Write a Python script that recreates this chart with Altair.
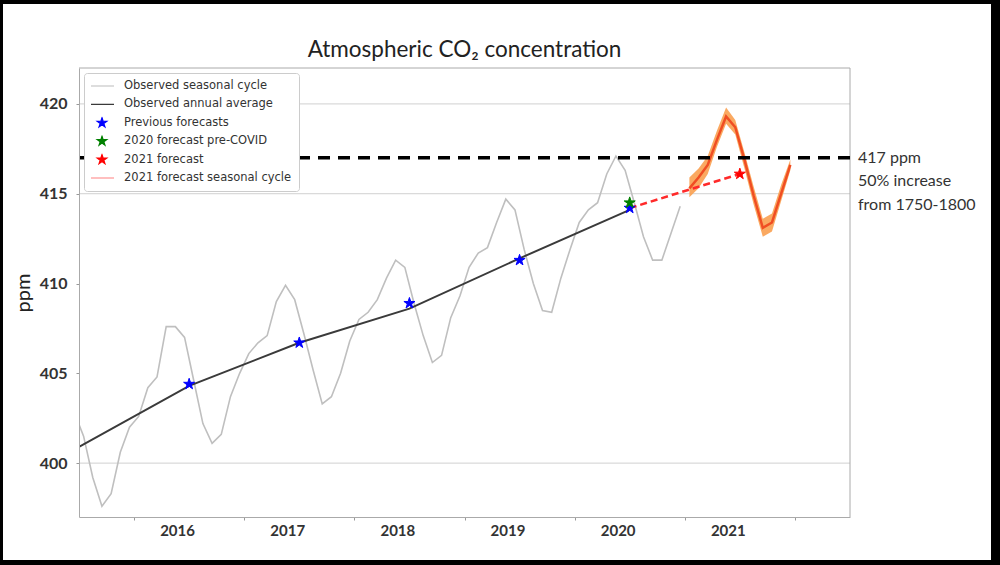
import altair as alt
import pandas as pd

# ---------------- data ----------------
# Observed monthly CO2 (mid-month), June 2015 .. December 2020
obs_2015 = [402.8, 401.5, 399.2, 397.6, 398.3, 400.6, 402.0]
obs_2016 = [402.6, 404.2, 404.8, 407.6, 407.6, 407.0, 404.6, 402.2, 401.1, 401.6, 403.7, 405.0]
obs_2017 = [406.1, 406.7, 407.1, 409.0, 409.9, 409.1, 407.2, 405.2, 403.3, 403.7, 405.0, 406.8]
obs_2018 = [408.0, 408.4, 409.1, 410.3, 411.3, 410.9, 408.9, 407.1, 405.6, 406.0, 408.1, 409.3]
obs_2019 = [410.9, 411.7, 412.0, 413.4, 414.7, 414.1, 411.9, 410.0, 408.5, 408.4, 410.3, 411.9]
obs_2020 = [413.4, 414.1, 414.5, 416.1, 417.1, 416.3, 414.5, 412.6, 411.3, 411.3, 412.8, 414.3]

# Observed annual averages (plotted mid-year)
annual_years = [2015.5, 2016.5, 2017.5, 2018.5, 2019.5, 2020.5]
annual_vals = [400.9, 404.3, 406.7, 408.6, 411.4, 414.1]

# Forecast stars
prev_years = [2016.5, 2017.5, 2018.5, 2019.5, 2020.5]
prev_vals = [404.4, 406.7, 408.9, 411.3, 414.2]
precovid_year, precovid_val = 2020.5, 414.5
f2021_year, f2021_val = 2021.5, 416.1

# Dashed red forecast link
link_years = [2020.5, 2021.5]
link_vals = [414.2, 416.1]

# 2021 forecast seasonal cycle (Jan..Dec 2021) with its uncertainty band
fc_mid = [415.3, 415.9, 416.6, 418.0, 419.3, 418.7, 416.9, 414.9, 413.1, 413.4, 415.0, 416.6]
fc_lo = [414.8, 415.3, 416.1, 417.6, 418.9, 418.3, 416.4, 414.4, 412.6, 412.9, 414.6, 416.3]
fc_hi = [415.9, 416.4, 417.1, 418.5, 419.8, 419.1, 417.3, 415.4, 413.6, 413.9, 415.5, 416.9]

threshold = 417
grid_vals = [400, 415, 420]
y_ticks = [400, 405, 410, 415, 420]
x_ticks = [2016, 2017, 2018, 2019, 2020, 2021, 2022]
x_domain = [2015.5, 2022.5]
y_domain = [397, 422]
note_text = "417 ppm\n50% increase\nfrom 1750-1800"

legend_names = ["Observed seasonal cycle", "Observed annual average", "Previous forecasts",
                "2020 forecast pre-COVID", "2021 forecast", "2021 forecast seasonal cycle"]
legend_colors = ["#bbbbbb", "#3a3a3a", "#0000ff", "#008000", "#ff0000", "#ff8080"]

# ---------------- tables ----------------
def month_x(year, month):
    return year + (month - 0.5) / 12.0

obs_rows = []
for year, vals, first in [(2015, obs_2015, 6), (2016, obs_2016, 1), (2017, obs_2017, 1),
                          (2018, obs_2018, 1), (2019, obs_2019, 1), (2020, obs_2020, 1)]:
    for i, v in enumerate(vals):
        obs_rows.append({"t": month_x(year, first + i), "ppm": v})
obs_df = pd.DataFrame(obs_rows)

annual_df = pd.DataFrame({"t": annual_years, "ppm": annual_vals})
link_df = pd.DataFrame({"t": link_years, "ppm": link_vals})
fc_df = pd.DataFrame({"t": [month_x(2021, m) for m in range(1, 13)],
                      "ppm": fc_mid, "lo": fc_lo, "hi": fc_hi})
stars_df = pd.DataFrame(
    [{"t": t, "ppm": v, "series": "Previous forecasts"} for t, v in zip(prev_years, prev_vals)]
    + [{"t": precovid_year, "ppm": precovid_val, "series": "2020 forecast pre-COVID"},
       {"t": f2021_year, "ppm": f2021_val, "series": "2021 forecast"}]
)
grid_df = pd.DataFrame({"ppm": grid_vals})
thr_df = pd.DataFrame({"ppm": [threshold]})
top_df = pd.DataFrame({"ppm": [y_domain[1]]})
right_df = pd.DataFrame({"t": [x_domain[1]]})
note_df = pd.DataFrame({"t": [x_domain[1]], "ppm": [threshold], "txt": [note_text]})

# ---------------- styling ----------------
STAR = ("M0,-1L0.2245,-0.309L0.951,-0.309L0.363,0.118L0.588,0.809L0,0.382"
        "L-0.588,0.809L-0.363,0.118L-0.951,-0.309L-0.2245,-0.309Z")
LINE = "M-2.4,0L2.4,0"
legend_shapes = [LINE, LINE, STAR, STAR, STAR, LINE]

W, H = 771, 449

xs = alt.Scale(domain=x_domain, nice=False, zero=False)
ys = alt.Scale(domain=y_domain, nice=False, zero=False)

x_axis = alt.Axis(values=x_ticks, labelExpr="datum.value < 2022 ? toString(datum.value) : ''",
                  grid=False, tickSize=3, tickColor="#999999", domainColor="#aaaaaa",
                  labelOffset=43, labelPadding=3, labelFont="Lato", labelFontSize=15,
                  labelFontWeight="bold", labelColor="#333333", title=None, zindex=1)
y_axis = alt.Axis(values=y_ticks, grid=False, tickSize=3, tickColor="#999999",
                  domainColor="#aaaaaa", labelFont="Lato", labelFontSize=16,
                  labelFontWeight="bold", labelColor="#333333", labelPadding=9,
                  title="ppm", titleFont="Lato", titleFontSize=20, titleFontWeight="normal",
                  titleColor="#222222", titlePadding=6, zindex=1)

X = alt.X("t:Q", scale=xs, axis=x_axis)
Y = alt.Y("ppm:Q", scale=ys, axis=y_axis)

frame = alt.Chart(thr_df).mark_rect(color="white").encode(
    x=alt.value(-76), x2=alt.value(W + 141), y=alt.value(-64), y2=alt.value(H + 43))

grid = alt.Chart(grid_df).mark_rule(color="#d0d0d0", strokeWidth=1).encode(
    y=alt.Y("ppm:Q", scale=ys, axis=y_axis))
top_edge = alt.Chart(top_df).mark_rule(color="#aaaaaa", strokeWidth=1).encode(
    y=alt.Y("ppm:Q", scale=ys, axis=y_axis))
right_edge = alt.Chart(right_df).mark_rule(color="#aaaaaa", strokeWidth=1).encode(
    x=alt.X("t:Q", scale=xs, axis=x_axis))

obs = alt.Chart(obs_df).mark_line(color="#bfbfbf", strokeWidth=1.6, clip=True).encode(x=X, y=Y)
annual = alt.Chart(annual_df).mark_line(color="#3a3a3a", strokeWidth=2, clip=True).encode(x=X, y=Y)

band = alt.Chart(fc_df).mark_area(color="#f9a050", opacity=0.9).encode(
    x=X, y=alt.Y("lo:Q", scale=ys, axis=y_axis), y2="hi:Q")
fc_line = alt.Chart(fc_df).mark_line(color="#f04e23", strokeWidth=2.5).encode(x=X, y=Y)

thr = alt.Chart(thr_df).mark_rule(color="black", strokeWidth=3.5, strokeDash=[12, 8]).encode(
    y=alt.Y("ppm:Q", scale=ys, axis=y_axis))

link = alt.Chart(link_df).mark_line(color="#ff2a2a", strokeWidth=2.5, strokeDash=[7, 4]).encode(x=X, y=Y)

stars = alt.Chart(stars_df).mark_point(filled=True, size=135, strokeWidth=1, opacity=1).encode(
    x=X, y=Y,
    fill=alt.Fill("series:N", scale=alt.Scale(domain=legend_names, range=legend_colors),
                  legend=alt.Legend(title=None, orient="top-left", offset=5, padding=7,
                                    fillColor="white", strokeColor="#cccccc", cornerRadius=3,
                                    labelFont="DejaVu Sans", labelFontSize=11.5,
                                    labelColor="#333333", symbolSize=100, symbolStrokeWidth=1.2,
                                    symbolOffset=5, labelOffset=16, rowPadding=6.4,
                                    clipHeight=12, labelLimit=300, zindex=2)),
    stroke=alt.Stroke("series:N", scale=alt.Scale(domain=legend_names, range=legend_colors)),
    shape=alt.Shape("series:N", scale=alt.Scale(domain=legend_names, range=legend_shapes)),
)

note = alt.Chart(note_df).mark_text(align="left", baseline="top", lineBreak="\n", lineHeight=23.5,
                                    font="Lato", fontSize=16, color="#333333", dx=8, dy=-8).encode(
    x=X, y=Y, text="txt:N")

chart = alt.layer(frame, grid, top_edge, right_edge, obs, annual, band, fc_line, thr, link,
                  stars, note).properties(
    width=W, height=H,
    title=alt.TitleParams("Atmospheric CO₂ concentration", font="Lato", fontSize=22.5,
                          fontWeight="normal", color="#222222", anchor="middle", frame="group",
                          offset=-57, zindex=2),
    autosize=alt.AutoSizeParams(type="none"),
    padding={"left": 79, "top": 68, "right": 150, "bottom": 48},
    background="#000000",
).configure_view(stroke=None)

chart.save("out.html", embed_options={"renderer": "svg", "actions": False})
